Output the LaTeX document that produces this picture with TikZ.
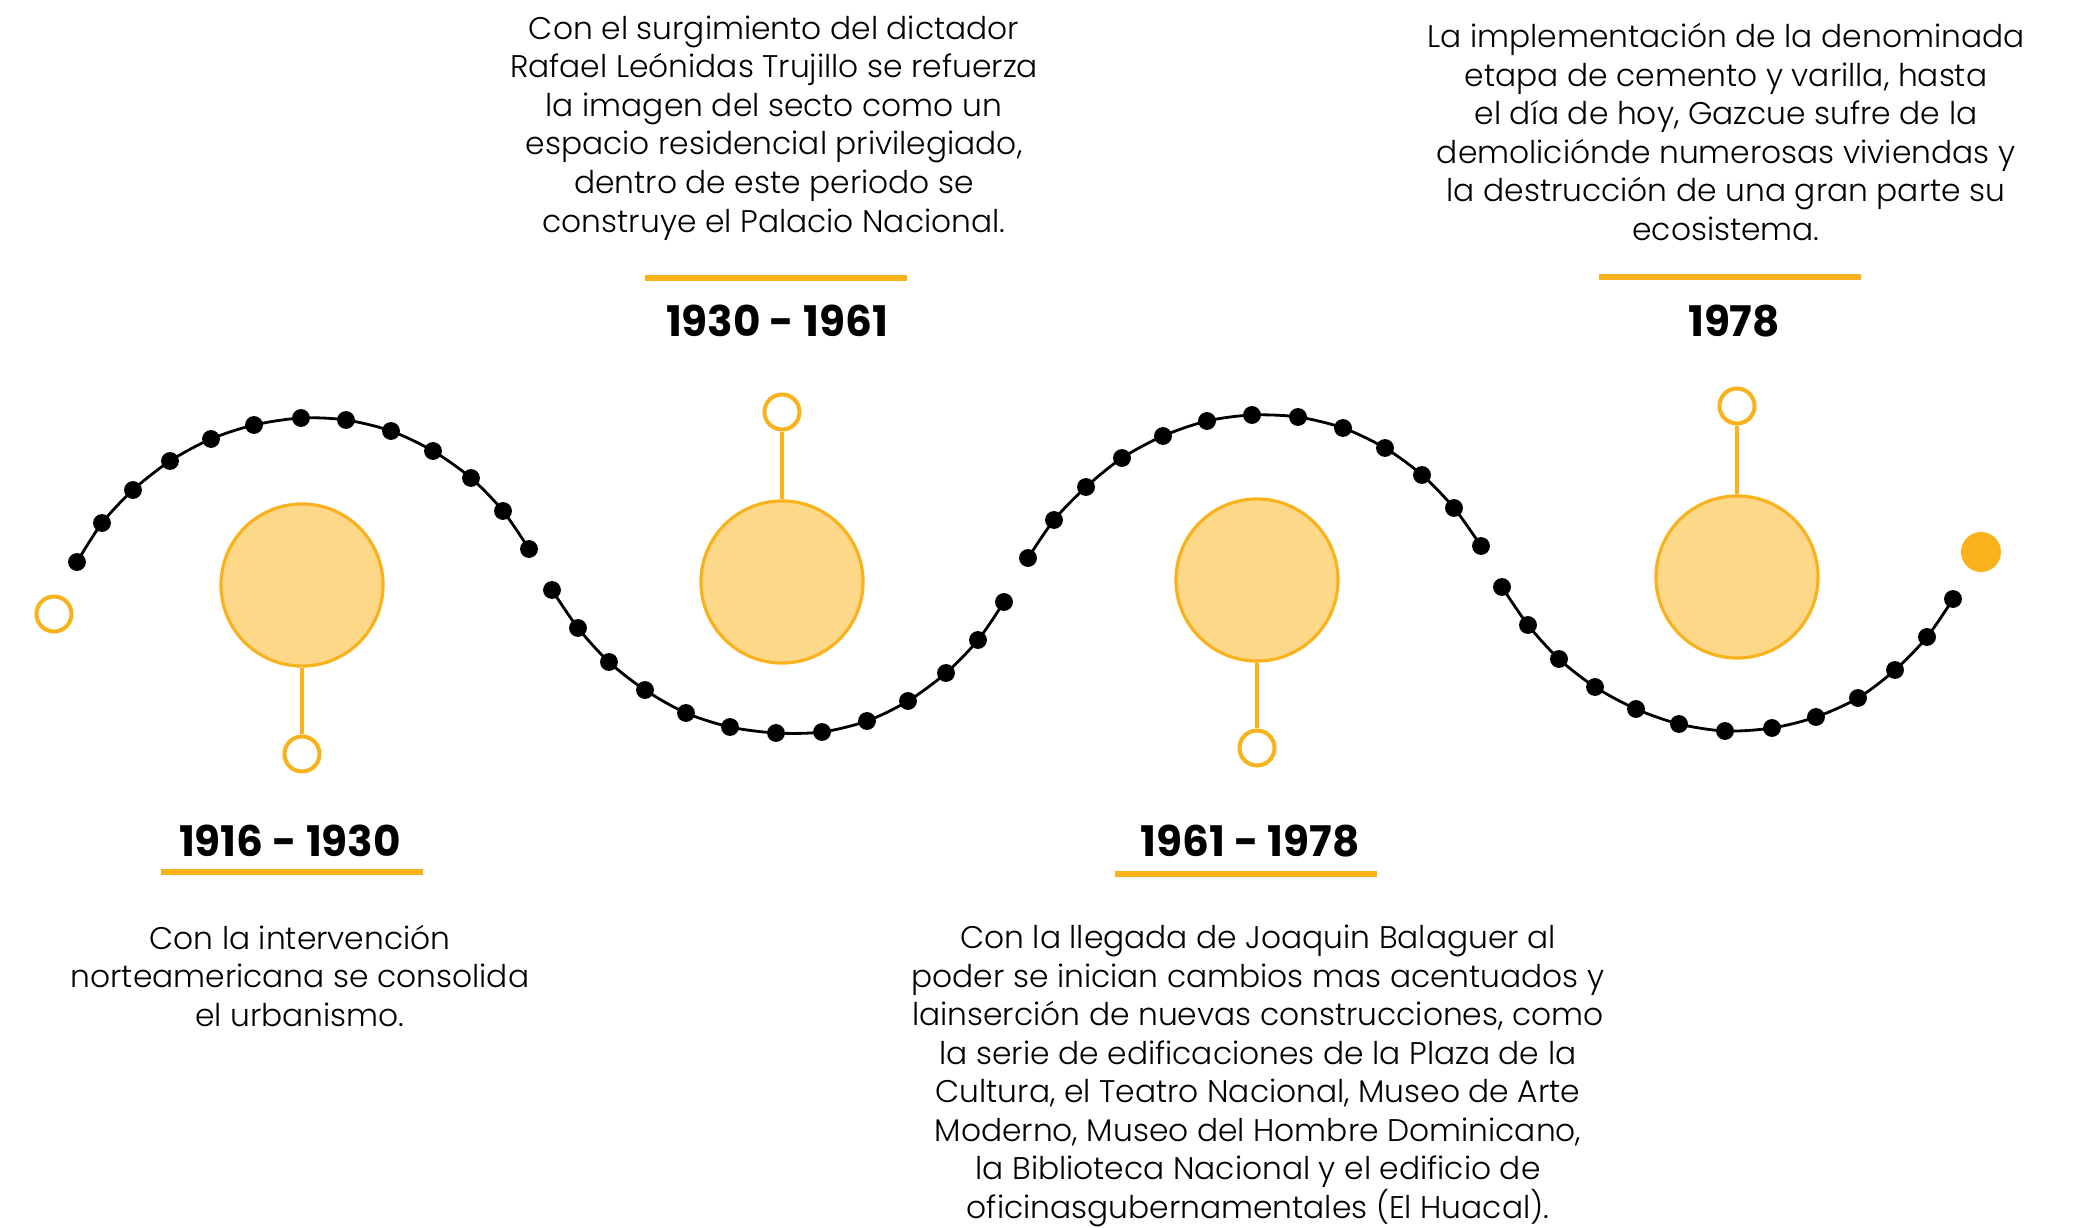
\documentclass[tikz,border=0pt]{standalone}
\usepackage{fontspec}
\setmainfont{Poppins}[UprightFont=* Light, BoldFont=* Bold]
\definecolor{gold}{RGB}{249,178,27}
\definecolor{sand}{RGB}{253,216,137}

\begin{document}
\begin{tikzpicture}[x=0.01cm, y=-0.01cm,
    bubble/.style={circle, draw=gold, fill=sand, line width=0.9pt, minimum size=1.62cm, inner sep=0pt},
    pin/.style={circle, draw=gold, fill=white, line width=1.15pt, minimum size=0.35cm, inner sep=0pt},
    stem/.style={draw=gold, line width=1.15pt},
    wave/.style={line width=0.8pt, mark=*, mark size=0.075cm},
    bar/.style={rectangle, fill=gold, minimum width=2.62cm, minimum height=0.06cm, inner sep=0pt},
    year/.style={font=\bfseries\fontsize{12}{14}\selectfont},
    info/.style={align=center, font=\fontsize{8.9}{10.95}\selectfont}
  ]
    \useasboundingbox (0,0) rectangle (2079,1228);

    % Wave
    \draw[wave] plot[smooth] coordinates {(77,562) (102,523) (133,490) (170,461) (211,439) (254,425) (301,418) (346,420) (391,431) (433,451) (471,478) (503,511) (529,549)};
    \draw[wave] plot[smooth] coordinates {(552,590) (578,628) (609,662) (645,690) (686,713) (730,727) (776,733) (822,732) (867,721) (908,701) (946,673) (978,640) (1004,602)};
    \draw[wave] plot[smooth] coordinates {(1028,558) (1054,520) (1086,487) (1122,458) (1163,436) (1207,421) (1252,415) (1298,417) (1343,428) (1385,448) (1422,475) (1454,508) (1481,546)};
    \draw[wave] plot[smooth] coordinates {(1502,587) (1528,625) (1559,659) (1595,687) (1636,709) (1679,724) (1725,731) (1772,728) (1816,717) (1858,698) (1895,670) (1927,637) (1953,599)};

    % Start and end
    \node[pin] (start) at (54,614) {};
    \node[circle, fill=gold, minimum size=0.4cm, inner sep=0pt] (finish) at (1981,552) {};

    % Bubbles
    \node[bubble] (b1) at (302,585) {};
    \node[bubble] (b2) at (782,582) {};
    \node[bubble] (b3) at (1257,580) {};
    \node[bubble] (b4) at (1737,577) {};

    % Pins
    \node[pin] (p1) at (302,754) {};
    \node[pin] (p2) at (782,412) {};
    \node[pin] (p3) at (1257,748) {};
    \node[pin] (p4) at (1737,406) {};
    \draw[stem] (b1) -- (p1);
    \draw[stem] (b2) -- (p2);
    \draw[stem] (b3) -- (p3);
    \draw[stem] (b4) -- (p4);

    % Years
    \node[bar] (u1) at (292,872) {};
    \node[bar] (u2) at (776,278) {};
    \node[bar] (u3) at (1246,874) {};
    \node[bar] (u4) at (1730,277) {};
    \node[year] (y1) at (290,841) {1916 - 1930};
    \node[year] (y2) at (777,321) {1930 - 1961};
    \node[year] (y3) at (1250,841) {1961 - 1978};
    \node[year] (y4) at (1734,321) {1978};

    % Texts
    \node[info] (t1) at (300,976) {Con la intervención\\norteamericana se consolida\\el urbanismo.};
    \node[info] (t2) at (774,128) {Con el surgimiento del dictador\\Rafael Leónidas Trujillo se refuerza\\la imagen del secto como un\\espacio residencial privilegiado,\\dentro de este periodo se\\construye el Palacio Nacional.};
    \node[info] (t3) at (1258,1076) {Con la llegada de Joaquin Balaguer al\\poder se inician cambios mas acentuados y\\lainserción de nuevas construcciones, como\\la serie de edificaciones de la Plaza de la\\Cultura, el Teatro Nacional, Museo de Arte\\Moderno, Museo del Hombre Dominicano,\\la Biblioteca Nacional y el edificio de\\oficinasgubernamentales (El Huacal).};
    \node[info] (t4) at (1726,132) {La implementación de la denominada\\etapa de cemento y varilla, hasta\\el día de hoy, Gazcue sufre de la\\demoliciónde numerosas viviendas y\\la destrucción de una gran parte su\\ecosistema.};
\end{tikzpicture}
\end{document}
